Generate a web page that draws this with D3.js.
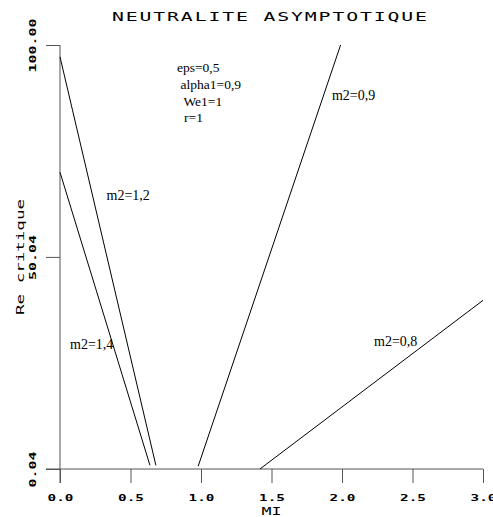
<!DOCTYPE html>
<html><head><meta charset="utf-8">
<script src="https://cdn.jsdelivr.net/npm/d3@7"></script>
<style>body{margin:0;background:#fff}svg{display:block}</style>
</head><body>
<svg id="chart" width="493" height="517"></svg>
<script>
// Axis ticks
const xTickValues = [0, 0.5, 1, 1.5, 2, 2.5, 3];
const xTickLabels = ["0.0", "0.5", "1.0", "1.5", "2.0", "2.5", "3.0"];
const yTickValues = [0.04, 50.04, 100];
const yTickLabels = ["0.04", "50.04", "100.00"];

// Neutral curves: critical Reynolds number versus MI, one segment per m2
const seriesNames = ["m2=1,2", "m2=1,4", "m2=0,9", "m2=0,8"];
const seriesMI = [[0, 0.68], [0, 0.638], [0.98, 1.99], [1.418, 3.0]];
const seriesRe = [[97.2, 0.9], [70.0, 0.9], [0.7, 100], [0.04, 39.8]];

// Curve label anchors (MI, Re)
const labelMI = [0.33, 0.071, 1.929, 2.227];
const labelRe = [63.5, 28.3, 87.0, 29.0];

// Fixed parameters
const paramMI = [0.83, 0.855, 0.875, 0.88];
const paramRe = [93.6, 89.6, 85.6, 81.8];
const paramLines = ["eps=0,5", "alpha1=0,9", "We1=1", "r=1"];

const svg = d3.select("#chart");
const x = d3.scaleLinear().domain([0, 3]).range([60, 483]);
const y = d3.scaleLinear().domain([0.04, 100]).range([469, 45]);
const tick = 14;
const axisColor = "#555";
const mono = "DejaVu Sans Mono";

// Axis lines, each running on past the other by one tick length
svg.append("line").attr("x1", x(0) - tick).attr("x2", x(3))
  .attr("y1", y(0.04)).attr("y2", y(0.04)).attr("stroke", axisColor);
svg.append("line").attr("x1", x(0)).attr("x2", x(0))
  .attr("y1", y(100)).attr("y2", y(0.04) + tick).attr("stroke", axisColor);

// X axis
const gx = svg.append("g").attr("transform", `translate(0,${y(0.04)})`)
  .call(d3.axisBottom(x).tickValues(xTickValues).tickSize(tick).tickSizeOuter(0)
    .tickFormat((d, i) => xTickLabels[i]));
gx.select(".domain").remove();
gx.selectAll(".tick line").attr("stroke", axisColor);
gx.selectAll(".tick text")
  .attr("y", 32).attr("dy", 0)
  .attr("font-family", mono).attr("font-weight", "bold").attr("font-size", 8.5)
  .attr("fill", "#000")
  .attr("textLength", (d, i) => xTickLabels[i].length * 8.6)
  .attr("lengthAdjust", "spacingAndGlyphs");

// Y axis
const gy = svg.append("g").attr("transform", `translate(${x(0)},0)`)
  .call(d3.axisLeft(y).tickValues(yTickValues).tickSize(tick).tickSizeOuter(0)
    .tickFormat((d, i) => yTickLabels[i]));
gy.select(".domain").remove();
gy.selectAll(".tick line").attr("stroke", axisColor);
gy.selectAll(".tick text")
  .attr("x", 0).attr("y", 0).attr("dy", 0)
  .attr("transform", "translate(-24,0) rotate(-90)")
  .attr("text-anchor", "middle")
  .attr("font-family", mono).attr("font-weight", "bold").attr("font-size", 8.5)
  .attr("fill", "#000")
  .attr("textLength", (d, i) => yTickLabels[i].length * 9)
  .attr("lengthAdjust", "spacingAndGlyphs");

// Axis titles
svg.append("text").attr("x", (x(0) + x(3)) / 2).attr("y", 515)
  .attr("text-anchor", "middle").attr("font-family", mono).attr("font-size", 11)
  .attr("textLength", 20).attr("lengthAdjust", "spacingAndGlyphs")
  .text("MI");
svg.append("text")
  .attr("transform", `translate(24,${(y(0.04) + y(100)) / 2}) rotate(-90)`)
  .attr("text-anchor", "middle").attr("font-family", mono).attr("font-size", 11)
  .attr("textLength", 116).attr("lengthAdjust", "spacingAndGlyphs")
  .text("Re critique");

// Title: widened mono glyphs with extra letter spacing
const titleScale = 1.65;
svg.append("text").attr("transform", `translate(112,21) scale(${titleScale},1)`)
  .attr("font-family", mono).attr("font-size", 12)
  .attr("textLength", 315 / titleScale).attr("lengthAdjust", "spacing")
  .text("NEUTRALITE ASYMPTOTIQUE");

// Curves
const line = d3.line().x(d => x(d[0])).y(d => y(d[1]));
seriesNames.forEach((name, i) => {
  const pts = seriesMI[i].map((m, k) => [m, seriesRe[i][k]]);
  svg.append("path").datum(pts).attr("d", line)
    .attr("fill", "none").attr("stroke", "#000").attr("stroke-width", 1);
  svg.append("text").attr("x", x(labelMI[i])).attr("y", y(labelRe[i]))
    .attr("font-family", "Liberation Serif").attr("font-size", 14)
    .text(name);
});

// Parameter block
paramLines.forEach((t, i) => {
  svg.append("text").attr("x", x(paramMI[i])).attr("y", y(paramRe[i]))
    .attr("font-family", "Liberation Serif").attr("font-size", 13.5)
    .text(t);
});
</script>
</body></html>
